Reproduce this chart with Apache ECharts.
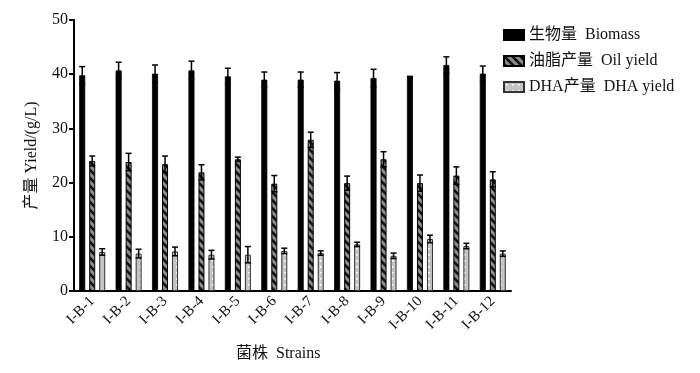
<!DOCTYPE html>
<html><head><meta charset="utf-8">
<script src="https://cdn.jsdelivr.net/npm/echarts@6/dist/echarts.min.js"></script>
<style>html,body{margin:0;padding:0;background:#fff}#c{width:700px;height:373px}</style>
</head><body><div id="c"></div>
<script>
var categories = ['I-B-1','I-B-2','I-B-3','I-B-4','I-B-5','I-B-6','I-B-7','I-B-8','I-B-9','I-B-10','I-B-11','I-B-12'];
var biomass    = [39.8, 40.7, 40.1, 40.7, 39.6, 39.0, 39.0, 38.8, 39.3, 39.5, 41.7, 40.1];
var biomassErr = [1.6, 1.5, 1.6, 1.7, 1.5, 1.4, 1.4, 1.5, 1.6, 0.1, 1.5, 1.4];
var oil        = [24.0, 23.8, 23.4, 21.9, 24.3, 19.8, 27.9, 19.9, 24.3, 19.9, 21.3, 20.6];
var oilErr     = [0.9, 1.6, 1.5, 1.4, 0.4, 1.5, 1.4, 1.3, 1.4, 1.5, 1.6, 1.4];
var dha        = [7.2, 6.9, 7.3, 6.7, 6.7, 7.4, 7.0, 8.6, 6.5, 9.6, 8.3, 6.9];
var dhaErr     = [0.6, 0.8, 0.8, 0.8, 1.5, 0.5, 0.4, 0.4, 0.5, 0.7, 0.5, 0.5];
var yTicks     = [0, 10, 20, 30, 40, 50];

var FONT = '"Liberation Serif", "Noto Sans CJK SC", serif';

function oilPattern() {
  var c = document.createElement('canvas'); c.width = 8; c.height = 8;
  var g = c.getContext('2d');
  g.fillStyle = '#8c8c8c'; g.fillRect(0, 0, 8, 8);
  g.strokeStyle = '#111'; g.lineWidth = 2.6;
  for (var k = -8; k <= 8; k += 8) {
    g.beginPath(); g.moveTo(k - 2, -2); g.lineTo(k + 10, 10); g.stroke();
  }
  return c;
}
function dhaPattern() {
  var c = document.createElement('canvas'); c.width = 6; c.height = 6;
  var g = c.getContext('2d');
  g.fillStyle = '#c4c4c4'; g.fillRect(0, 0, 6, 6);
  g.fillStyle = '#ffffff'; g.fillRect(2, 2, 1.6, 1.6);
  return c;
}

var BW = 6, GAP = 4, STEP = BW + GAP;

function errSeries(vals, errs, offIdx) {
  var data = vals.map(function (v, i) { return [i, v, errs[i]]; });
  return {
    type: 'custom', silent: true, z: 5,
    data: data,
    renderItem: function (params, api) {
      var i = api.value(0), v = api.value(1), e = api.value(2);
      var top = api.coord([i, v + e]);
      var bot = api.coord([i, v - e]);
      var x = top[0] + offIdx * STEP;
      var hw = 3;
      var st = { stroke: '#000', lineWidth: 1.5 };
      return { type: 'group', children: [
        { type: 'line', shape: { x1: x, y1: top[1], x2: x, y2: bot[1] }, style: st },
        { type: 'line', shape: { x1: x - hw, y1: top[1], x2: x + hw, y2: top[1] }, style: st },
        { type: 'line', shape: { x1: x - hw, y1: bot[1], x2: x + hw, y2: bot[1] }, style: st }
      ]};
    }
  };
}

var chart = echarts.init(document.getElementById('c'));
chart.setOption({
  animation: false,
  backgroundColor: '#fff',
  grid: { left: 74, right: 189, top: 20, bottom: 82 },
  legend: {
    orient: 'vertical', left: 498, top: 22, itemWidth: 20, itemHeight: 10, itemGap: 10,
    icon: 'rect',
    textStyle: { fontFamily: FONT, fontSize: 16, color: '#111' },
    data: ['生物量  Biomass', '油脂产量  Oil yield', 'DHA产量  DHA yield']
  },
  xAxis: {
    type: 'category', data: categories,
    axisLine: { lineStyle: { color: '#000', width: 2 } },
    axisTick: { alignWithLabel: true, length: 6, lineStyle: { color: '#000', width: 2 } },
    axisLabel: { rotate: 45, margin: 8, fontFamily: FONT, fontSize: 15, color: '#111', interval: 0 }
  },
  yAxis: {
    type: 'value', min: yTicks[0], max: yTicks[yTicks.length - 1], interval: 10,
    name: '产量 Yield/(g/L)', nameLocation: 'middle', nameGap: 34,
    nameTextStyle: { fontFamily: FONT, fontSize: 16, color: '#111' },
    splitLine: { show: false },
    axisLine: { show: true, lineStyle: { color: '#000', width: 2 } },
    axisTick: { show: true, length: 5, lineStyle: { color: '#000', width: 2 } },
    axisLabel: { fontFamily: FONT, fontSize: 16, color: '#111', margin: 6 }
  },
  graphic: [{
    type: 'text', left: 236, top: 346,
    style: { text: '菌株  Strains', font: '16px ' + FONT, fill: '#111' }
  }],
  series: [
    { name: '生物量  Biomass', type: 'bar', data: biomass, barWidth: BW, barGap: (GAP / BW * 100) + '%',
      itemStyle: { color: '#000', borderColor: '#000', borderWidth: 0.8 } },
    { name: '油脂产量  Oil yield', type: 'bar', data: oil, barWidth: BW,
      itemStyle: { color: { image: oilPattern(), repeat: 'repeat' }, borderColor: '#000', borderWidth: 1 } },
    { name: 'DHA产量  DHA yield', type: 'bar', data: dha, barWidth: BW,
      itemStyle: { color: { image: dhaPattern(), repeat: 'repeat' }, borderColor: '#333', borderWidth: 1 } },
    errSeries(biomass, biomassErr, -1),
    errSeries(oil, oilErr, 0),
    errSeries(dha, dhaErr, 1)
  ]
});
</script></body></html>
